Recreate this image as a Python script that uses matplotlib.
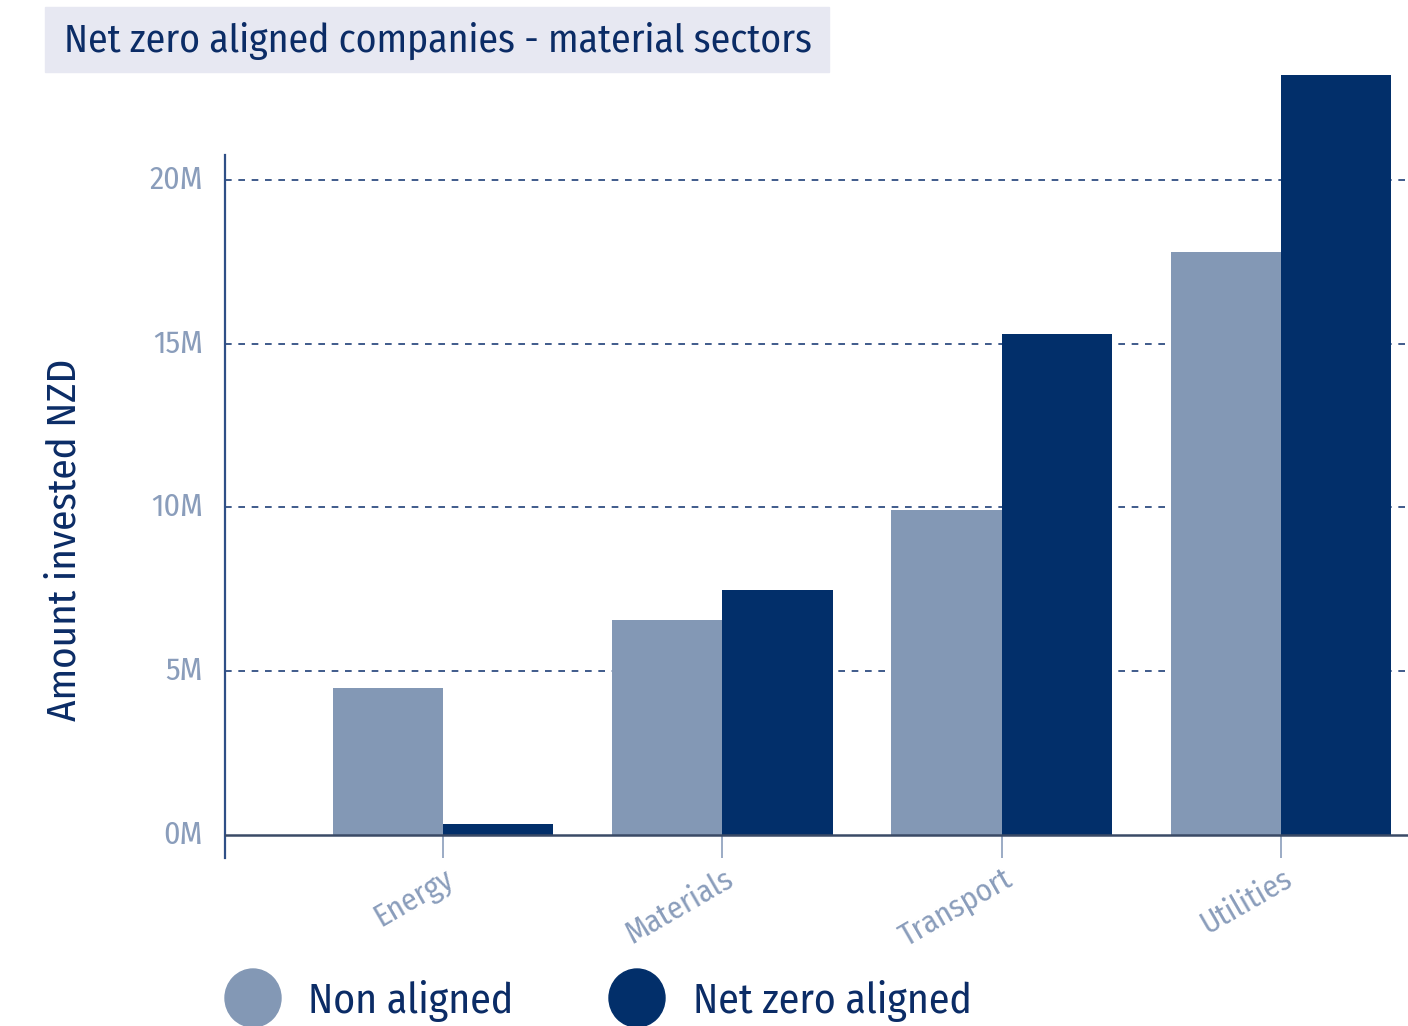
import matplotlib
matplotlib.use("Agg")
import matplotlib.pyplot as plt
from matplotlib.patches import Ellipse
import matplotlib.transforms as mtransforms
import numpy as np

plt.rcParams['font.family'] = ['Fira Sans Condensed', 'PT Sans Narrow', 'Noto Sans', 'DejaVu Sans']

categories = ["Energy", "Materials", "Transport", "Utilities"]
non_aligned = [4.48, 6.56, 9.92, 17.8]
net_zero_aligned = [0.35, 7.48, 15.3, 23.2]
series_names = ["Non aligned", "Net zero aligned"]
y_ticks = [0, 5, 10, 15, 20]
y_tick_labels = ["0M", "5M", "10M", "15M", "20M"]

c_non = "#8398b5"
c_nz = "#022f6a"
c_tick = "#8a9dbb"
c_text = "#0b2c66"

fig = plt.figure(figsize=(14.08, 10.26), dpi=100)
ax = fig.add_axes([225/1408, 1-858/1026, 1-225/1408, (858-155)/1026])

x = np.arange(len(categories))
w = 0.395
ax.bar(x - w/2, non_aligned, w, color=c_non, zorder=3, clip_on=False)
ax.bar(x + w/2, net_zero_aligned, w, color=c_nz, zorder=3, clip_on=False)

ax.set_xlim(-0.78, 3.455)
ax.set_ylim(-0.70, 20.76)

for t in y_ticks[1:]:
    ax.axhline(t, color="#1f3f78", lw=1.2, ls=(0, (4, 4)), zorder=1)
ax.axhline(0, color="#3a4a66", lw=1.8, zorder=4)

for s in ["top", "right", "bottom"]:
    ax.spines[s].set_visible(False)
ax.spines["left"].set_color("#2f4f86")
ax.spines["left"].set_linewidth(1.6)

ax.set_yticks(y_ticks)
ax.set_yticklabels(y_tick_labels)
ax.tick_params(axis="y", length=0, pad=16, labelsize=23, labelcolor=c_tick)
yoff = mtransforms.ScaledTranslation(0, 3/100, fig.dpi_scale_trans)
for lab in ax.get_yticklabels():
    lab.set_transform(lab.get_transform() + yoff)
ax.set_xticks(x)
ax.set_xticklabels(categories, rotation=30, ha="right", rotation_mode="anchor")
ax.tick_params(axis="x", direction="in", length=16.5, width=1.2, color=c_tick,
               labelsize=22.5, labelcolor=c_tick, pad=4)
offset = mtransforms.ScaledTranslation(1/100, 0, fig.dpi_scale_trans)
for lab in ax.get_xticklabels():
    lab.set_transform(lab.get_transform() + offset)

ax.set_ylabel("Amount invested NZD", fontsize=29.5, color=c_text)
ax.yaxis.set_label_coords(-0.119, 0.452)

# title box
fig.patches.append(plt.Rectangle((45/1408, 1-72/1026), (829-45)/1408, (72-7)/1026,
                                 transform=fig.transFigure, color="#e7e8f2", zorder=0))
fig.text(64/1408, 1-41/1026, "Net zero aligned companies - material sectors",
         fontsize=28.5, color=c_text, va="center", ha="left")

# legend
for cx, col, name, tx in [(253, c_non, series_names[0], 308), (637, c_nz, series_names[1], 693)]:
    fig.patches.append(Ellipse((cx/1408, 1-998/1026), 56/1408, 58/1026,
                               transform=fig.transFigure, color=col))
    fig.text(tx/1408, 1-1001/1026, name, fontsize=30, color=c_text, va="center", ha="left")

fig.savefig("out.png", dpi=100)
